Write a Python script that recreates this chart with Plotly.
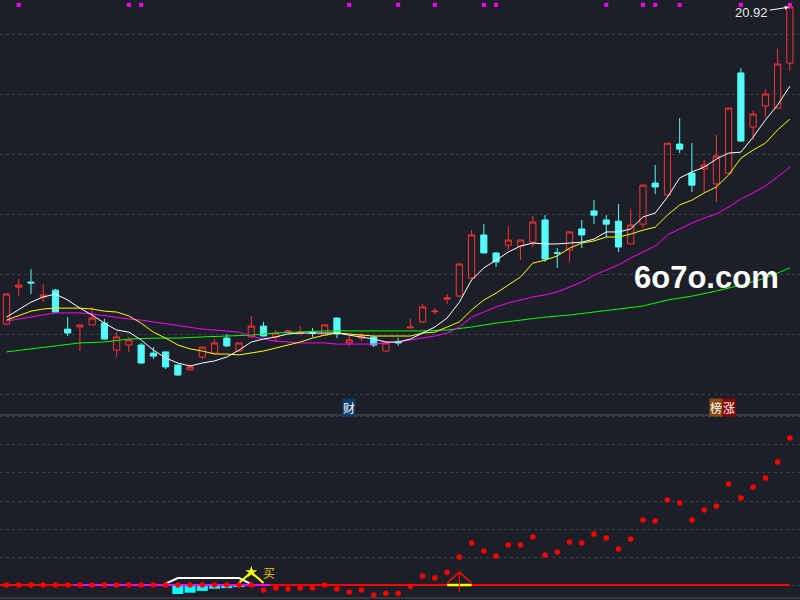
import plotly.graph_objects as go

# daily K-line data (price units), one entry per trading day
days = list(range(65))
opens = [10.35, 11.58, 11.75, 11.25, 11.48, 10.18, 10.25, 10.32, 10.38, 9.48,
         9.65, 9.65, 9.38, 9.42, 8.98, 8.82, 9.25, 9.38, 9.88, 9.45,
         9.92, 10.28, 9.92, 10.08, 10.02, 10.06, 9.98, 10.55, 9.72, 9.88,
         9.92, 9.45, 9.76, 10.22, 10.42, 10.76, 11.18, 11.28, 11.88, 13.32,
         12.72, 12.98, 12.95, 13.08, 13.82, 12.73, 12.82, 13.52, 14.12, 13.82,
         13.78, 13.02, 13.68, 15.05, 14.65, 16.35, 15.38, 15.52, 15.02, 15.38,
         18.72, 16.92, 17.62, 17.55, 19.05]
highs = [11.38, 11.85, 12.18, 11.68, 11.52, 10.58, 10.33, 10.92, 10.52, 10.08,
         9.92, 9.72, 9.58, 9.43, 8.99, 9.02, 9.59, 9.85, 10.02, 9.73,
         10.62, 10.42, 10.15, 10.15, 10.28, 10.22, 10.33, 10.56, 9.95, 10.05,
         9.93, 9.73, 9.88, 10.52, 11.02, 10.88, 11.35, 12.36, 13.48, 13.68,
         12.73, 13.62, 13.16, 13.95, 13.98, 12.88, 13.43, 13.82, 14.48, 13.98,
         14.35, 14.18, 14.99, 15.65, 16.39, 17.22, 16.38, 15.82, 16.65, 17.56,
         18.88, 17.45, 18.18, 19.52, 20.92]
lows = [10.32, 11.28, 11.35, 11.08, 10.74, 9.95, 9.45, 10.32, 9.84, 9.25,
        9.42, 9.02, 9.18, 8.85, 8.62, 8.81, 9.18, 9.37, 9.58, 9.44,
        9.91, 9.94, 9.75, 10.02, 10.01, 9.92, 9.97, 9.88, 9.62, 9.78,
        9.58, 9.44, 9.62, 10.21, 10.38, 10.68, 11.02, 11.25, 11.78, 12.71,
        12.25, 12.82, 12.48, 12.92, 12.42, 12.22, 12.42, 12.88, 13.68, 13.25,
        12.75, 13.01, 13.55, 14.68, 14.64, 16.05, 14.75, 14.75, 14.42, 15.37,
        16.44, 16.48, 17.25, 17.54, 18.78]
closes = [11.35, 11.65, 11.72, 11.32, 10.75, 10.05, 10.32, 10.55, 9.85, 9.92,
          9.82, 9.05, 9.28, 8.92, 8.65, 8.92, 9.58, 9.72, 9.62, 9.72,
          10.28, 9.95, 10.05, 10.12, 10.08, 10.04, 10.32, 10.02, 9.82, 9.98,
          9.65, 9.72, 9.72, 10.25, 10.92, 10.78, 11.22, 12.35, 13.32, 12.72,
          12.42, 13.15, 13.15, 13.75, 12.52, 12.71, 13.42, 13.32, 13.98, 13.68,
          12.92, 13.65, 14.98, 14.92, 16.38, 16.18, 14.98, 15.65, 15.95, 17.55,
          16.45, 17.35, 18.02, 19.02, 20.92]

# moving averages
ma5 = [10.58, 10.82, 11.08, 11.25, 11.35, 11.15, 10.88, 10.65, 10.38, 10.15,
       10.08, 9.82, 9.48, 9.22, 9.05, 8.95, 9.05, 9.12, 9.25, 9.48,
       9.75, 9.85, 9.92, 10.02, 10.05, 10.05, 10.05, 10.05, 9.98, 9.92,
       9.85, 9.75, 9.75, 9.85, 10.05, 10.25, 10.55, 11.08, 11.82, 12.22,
       12.48, 12.75, 12.95, 13.05, 13.02, 13.02, 13.05, 13.08, 13.18, 13.42,
       13.42, 13.52, 13.92, 14.05, 14.58, 15.22, 15.42, 15.58, 15.85, 16.05,
       16.08, 16.58, 17.15, 17.65, 18.28]
ma10 = [10.48, 10.62, 10.78, 10.85, 10.88, 10.88, 10.88, 10.85, 10.78, 10.75,
        10.62, 10.38, 10.08, 9.88, 9.65, 9.52, 9.45, 9.35, 9.35, 9.32,
        9.38, 9.45, 9.55, 9.65, 9.75, 9.88, 9.98, 10.05, 10.02, 9.98,
        9.95, 9.95, 9.95, 9.95, 10.05, 10.08, 10.25, 10.42, 10.82, 11.15,
        11.38, 11.65, 11.92, 12.38, 12.48, 12.62, 12.88, 13.05, 13.12, 13.25,
        13.25, 13.35, 13.48, 13.58, 13.98, 14.32, 14.48, 14.72, 14.92, 15.32,
        15.88, 16.15, 16.38, 16.82, 17.18]
ma20 = [10.45, 10.52, 10.58, 10.65, 10.72, 10.72, 10.72, 10.68, 10.62, 10.58,
        10.52, 10.48, 10.42, 10.38, 10.32, 10.25, 10.18, 10.15, 10.12, 10.08,
        9.95, 9.85, 9.78, 9.75, 9.72, 9.72, 9.72, 9.68, 9.68, 9.68,
        9.68, 9.72, 9.75, 9.82, 9.88, 9.95, 10.05, 10.25, 10.58, 10.75,
        10.92, 11.05, 11.15, 11.25, 11.32, 11.42, 11.58, 11.75, 11.98, 12.15,
        12.32, 12.55, 12.75, 12.95, 13.32, 13.52, 13.72, 13.88, 14.02, 14.25,
        14.52, 14.72, 14.95, 15.25, 15.58]
ma60_days = list(range(0, 65, 2))
ma60 = [9.42, 9.52, 9.62, 9.72, 9.75, 9.85, 9.88, 9.88, 9.92, 9.95,
        9.98, 10.05, 10.08, 10.12, 10.12, 10.12, 10.12, 10.12, 10.15, 10.25,
        10.38, 10.48, 10.58, 10.65, 10.75, 10.85, 10.95, 11.15, 11.28, 11.45,
        11.65, 11.88, 12.22]

# signal squares along the top
signal_days = [1, 10, 11, 28, 32, 35, 39, 40, 49, 52, 53, 55, 60, 64]
signal_level = 20.99

# event tags under the price panel
tags = [(28, "财", "#0c3c6c"), (58, "榜", "#8b4a0c"), (59, "涨", "#8b0000")]

# lower indicator panel
dots = [0, 0, 0, 0, 0, 0, 0, 0, 0, 0,
        0, 0, 0, 0, 0, 0, 0, 0, 0, 0,
        0, -1.8, -1.1, -1.4, -1.1, -1.1, 0, -1.4, -2.5, -1.8,
        -3.6, -2.9, -2.9, -0.4, 3.2, 2.5, 4.6, 10.0, 15.0, 12.1,
        10.4, 14.3, 14.3, 17.1, 10.7, 11.8, 15.4, 15.0, 18.2, 16.8,
        12.9, 16.4, 23.2, 22.9, 30.4, 29.3, 23.2, 26.8, 28.2, 36.1,
        31.1, 35.0, 38.2, 43.9, 52.5]
magenta_days = list(range(6, 22))
cyan_days = [14, 15, 16, 17, 18, 19]
cyan_vals = [-3.2, -2.75, -2.1, -1.3, -1.1, -0.6]
white_days = [13, 14, 15, 16, 17, 18, 19, 20]
white_vals = [0.5, 2.5, 2.5, 2.5, 2.5, 2.5, 2.5, 0.3]
buy_days = [19, 20, 21]
buy_vals = [0.7, 4.6, 0.7]
tri_days = [36, 37, 38]
tri_vals = [0.7, 4.6, 0.7]
tri_stem = [4.6, -2.5]

BG = "#1c1f27"
GRID = "#3a3e48"
RED = "#ff3232"
CYAN = "#54fcfc"

fig = go.Figure()

# moving averages
fig.add_trace(go.Scatter(x=ma60_days, y=ma60, mode="lines",
                         line=dict(color="#00ff00", width=1)))
fig.add_trace(go.Scatter(x=days, y=ma20, mode="lines",
                         line=dict(color="#ff00ff", width=1)))
fig.add_trace(go.Scatter(x=days, y=ma10, mode="lines",
                         line=dict(color="#ffff00", width=1)))
fig.add_trace(go.Scatter(x=days, y=ma5, mode="lines",
                         line=dict(color="#ffffff", width=1)))

# candles
fig.add_trace(go.Candlestick(
    x=days, open=opens, high=highs, low=lows, close=closes,
    increasing=dict(line=dict(color=RED, width=1), fillcolor="rgba(0,0,0,0)"),
    decreasing=dict(line=dict(color=CYAN, width=1), fillcolor=CYAN),
    whiskerwidth=0, hoverinfo="skip"))

fig.add_trace(go.Scatter(x=signal_days, y=[signal_level] * len(signal_days),
                         mode="markers",
                         marker=dict(symbol="square", size=4, color="#ff00ff")))

# lower panel
fig.add_trace(go.Bar(x=cyan_days, y=cyan_vals, width=0.9,
                     marker=dict(color="#00ffff", line=dict(width=0)),
                     xaxis="x2", yaxis="y2"))
fig.add_trace(go.Scatter(x=[days[0] - 0.53, days[-1]], y=[0, 0], mode="lines",
                         line=dict(color="#ff0000", width=2),
                         xaxis="x2", yaxis="y2"))
fig.add_trace(go.Scatter(x=[magenta_days[0] - 0.5, magenta_days[-1] + 0.5], y=[0, 0],
                         mode="lines", line=dict(color="#ff00ff", width=2),
                         xaxis="x2", yaxis="y2"))
fig.add_trace(go.Scatter(x=[tri_days[0], tri_days[-1]], y=[0, 0], mode="lines",
                         line=dict(color="#ffff00", width=2.5),
                         xaxis="x2", yaxis="y2"))
fig.add_trace(go.Scatter(x=white_days, y=white_vals, mode="lines",
                         line=dict(color="#ffffff", width=2),
                         xaxis="x2", yaxis="y2"))
fig.add_trace(go.Scatter(x=buy_days, y=buy_vals, mode="lines",
                         line=dict(color="#ffff00", width=2),
                         xaxis="x2", yaxis="y2"))
fig.add_trace(go.Scatter(x=[buy_days[1]], y=[buy_vals[1]], mode="markers",
                         marker=dict(symbol="star", size=9, color="#ffff00"),
                         xaxis="x2", yaxis="y2"))
fig.add_trace(go.Scatter(x=tri_days, y=tri_vals, mode="lines",
                         line=dict(color="#ff0000", width=1.5),
                         xaxis="x2", yaxis="y2"))
fig.add_trace(go.Scatter(x=[tri_days[1], tri_days[1]], y=tri_stem, mode="lines",
                         line=dict(color="#ff0000", width=1),
                         xaxis="x2", yaxis="y2"))
fig.add_trace(go.Scatter(x=days, y=dots, mode="markers",
                         marker=dict(symbol="circle", size=5.5, color="#ff0000"),
                         xaxis="x2", yaxis="y2"))

annotations = [
    dict(x=days[-1], y=closes[-1], xref="x", yref="y", text=f"{closes[-1]:.2f}",
         showarrow=True, arrowhead=2, arrowsize=0.8, arrowwidth=1,
         arrowcolor="#ffffff", ax=-38, ay=6, standoff=1,
         font=dict(family="Liberation Sans", size=13, color="#e8e8e8")),
    dict(x=buy_days[-1], y=buy_vals[1], xref="x2", yref="y2", text="买",
         showarrow=False, xshift=5,
         font=dict(family="Noto Sans CJK SC", size=12, color="#e8c800")),
    dict(x=0.8825, y=0.537, xref="paper", yref="paper", text="<b>6o7o.com</b>",
         showarrow=False, xanchor="center", yanchor="middle",
         font=dict(family="Liberation Sans", size=31, color="#ffffff")),
]
for d, t, c in tags:
    annotations.append(dict(x=d, y=1 - 407 / 600, xref="x", yref="paper", text=t,
                            showarrow=False, bgcolor=c, borderpad=0,
                            xanchor="center", yanchor="middle",
                            font=dict(family="Noto Sans CJK SC", size=12,
                                      color="#ffffff")))

axis_x = dict(range=[-0.53, 64.83], showgrid=False, showticklabels=False,
              zeroline=False, showline=False, ticks="")

fig.update_layout(
    width=800, height=600,
    margin=dict(l=0, r=0, t=0, b=0),
    paper_bgcolor=BG, plot_bgcolor=BG,
    showlegend=False, boxgap=0.28, bargap=0.1,
    xaxis=dict(axis_x, anchor="y", rangeslider=dict(visible=False)),
    xaxis2=dict(axis_x, anchor="y2", matches="x"),
    yaxis=dict(domain=[1 - 415 / 600, 1], range=[7.317, 21.153],
               dtick=2, tick0=0, showgrid=True, gridcolor=GRID, griddash="dot",
               gridwidth=1, showticklabels=False, zeroline=False, ticks=""),
    yaxis2=dict(domain=[2 / 600, 1 - 415 / 600], range=[-4.64, 60.71],
                dtick=10, tick0=0, showgrid=True, gridcolor=GRID, griddash="dot",
                gridwidth=1, showticklabels=False, zeroline=False, ticks=""),
    annotations=annotations,
    shapes=[
        dict(type="line", xref="paper", yref="paper", x0=0, x1=1,
             y0=1 - 415 / 600, y1=1 - 415 / 600, line=dict(color="#3e424c", width=1.5)),
        dict(type="line", xref="paper", yref="paper", x0=0, x1=1,
             y0=2 / 600, y1=2 / 600, line=dict(color="#3e424c", width=1.5)),
    ],
)

# drop the page's default body margin so the figure fills the window
fig.write_html("out.html",
               config={"displayModeBar": False},
               post_script="document.body.style.margin='0';"
                           "document.body.style.overflow='hidden';")
